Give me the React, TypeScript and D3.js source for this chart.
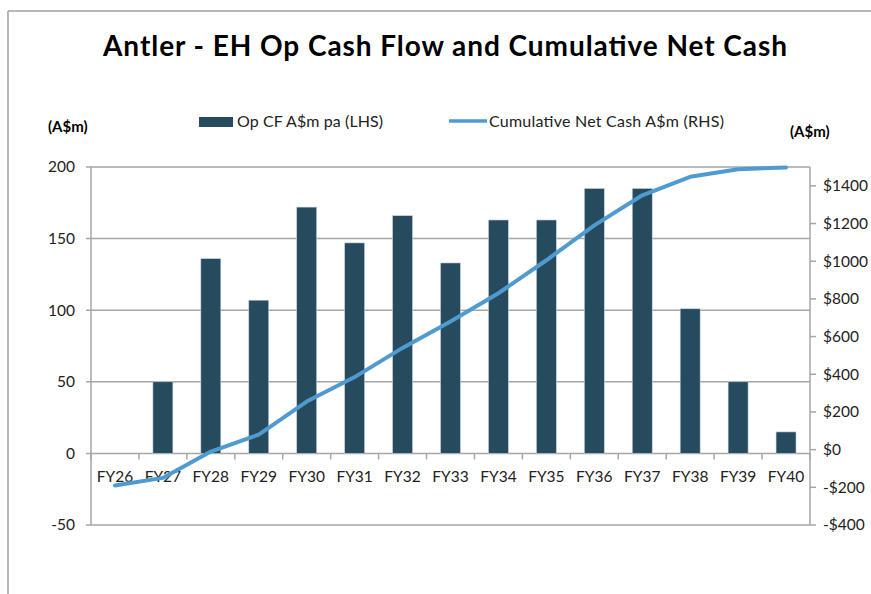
import * as d3 from "d3";
import React from "react";

const years = ["FY26", "FY27", "FY28", "FY29", "FY30", "FY31", "FY32", "FY33", "FY34", "FY35", "FY36", "FY37", "FY38", "FY39", "FY40"];
const opCF = [0, 50, 136, 107, 172, 147, 166, 133, 163, 163, 185, 185, 101, 50, 15];
const cumCash = [-190, -150, -10, 80, 255, 385, 540, 680, 830, 1005, 1190, 1350, 1448, 1488, 1498];
const leftTicks = [-50, 0, 50, 100, 150, 200];
const rightTicks = [-400, -200, 0, 200, 400, 600, 800, 1000, 1200, 1400];

const W = 871;
const H = 594;
const m = { left: 91, right: 810, top: 167, bottom: 525 };
const font = "Lato, 'Open Sans', sans-serif";
const grid = "#a6a6a6";

const App: React.FC = () => {
  const x = d3.scaleBand().domain(years).range([m.left, m.right]).paddingInner(0).paddingOuter(0);
  const y = d3.scaleLinear().domain([-50, 200]).range([m.bottom, m.top]);
  const y2 = d3.scaleLinear().domain([-400, 1500]).range([m.bottom, m.top]);
  const bw = x.bandwidth() / 2.4;
  const line = d3
    .line<number>()
    .x((_, i) => (x(years[i]) || 0) + x.bandwidth() / 2)
    .y((d) => y2(d));

  return (
    <svg width={W} height={H} style={{ position: "absolute", left: 0, top: 0, background: "#fff" }} fontFamily={font}>
      {/* outer frame */}
      <line x1={8} x2={W} y1={11} y2={11} stroke="#a0a0a0" strokeWidth={1.5} />
      <line x1={8} x2={8} y1={11} y2={H} stroke="#a0a0a0" strokeWidth={1.5} />

      <text x={103} y={56} fontSize={28} fontWeight="bold" fill="#000" textLength={684} lengthAdjust="spacing">
        Antler - EH Op Cash Flow and Cumulative Net Cash
      </text>

      {/* legend */}
      <rect x={199} y={117} width={34} height={10} fill="#264a5e" />
      <text x={237} y={127} fontSize={16} fill="#222" textLength={146} lengthAdjust="spacing">Op CF A$m pa (LHS)</text>
      <line x1={449} x2={487} y1={121} y2={121} stroke="#4f9bd0" strokeWidth={3.5} />
      <text x={489} y={127} fontSize={16} fill="#222" textLength={235} lengthAdjust="spacing">Cumulative Net Cash A$m (RHS)</text>

      <text x={48} y={132} fontSize={15} fontWeight="bold" fill="#000">(A$m)</text>
      <text x={790} y={137} fontSize={15} fontWeight="bold" fill="#000">(A$m)</text>

      {/* gridlines */}
      {leftTicks.map((t) => (
        <g key={"l" + t}>
          <line x1={m.left - 5} x2={m.right} y1={y(t)} y2={y(t)} stroke={grid} strokeWidth={1.5} />
          <text x={75} y={y(t)} dy="0.35em" textAnchor="end" fontSize={15.5} fill="#222">{t}</text>
        </g>
      ))}
      <line x1={m.left} x2={m.left} y1={m.top} y2={m.bottom} stroke={grid} strokeWidth={1.5} />
      <line x1={m.right} x2={m.right} y1={m.top} y2={m.bottom} stroke={grid} strokeWidth={1.5} />
      {rightTicks.map((t) => (
        <g key={"r" + t}>
          <line x1={m.right} x2={m.right + 6} y1={y2(t)} y2={y2(t)} stroke={grid} strokeWidth={1.5} />
          <text x={823} y={y2(t)} dy="0.35em" fontSize={15.5} fill="#222">{t < 0 ? "-$" + Math.abs(t) : "$" + t}</text>
        </g>
      ))}

      {/* category ticks */}
      {years.map((yr) => (
        <line key={"t" + yr} x1={x(yr) || 0} x2={x(yr) || 0} y1={y(0)} y2={y(0) + 6} stroke={grid} strokeWidth={1.5} />
      ))}
      <line x1={m.right} x2={m.right} y1={y(0)} y2={y(0) + 6} stroke={grid} strokeWidth={1.5} />

      {/* bars */}
      {opCF.map((v, i) => (
        <rect
          key={"b" + i}
          x={(x(years[i]) || 0) + (x.bandwidth() - bw) / 2}
          y={y(Math.max(0, v))}
          width={bw}
          height={Math.abs(y(v) - y(0))}
          fill="#264a5e"
          stroke="#c8d4dc"
          strokeWidth={0.6}
        />
      ))}

      {years.map((yr) => (
        <text key={"c" + yr} x={(x(yr) || 0) + x.bandwidth() / 2} y={477} dy="0.35em" textAnchor="middle" fontSize={15.5} fill="#222">
          {yr}
        </text>
      ))}

      <path d={line(cumCash) || ""} fill="none" stroke="#4f9bd0" strokeWidth={4} strokeLinejoin="round" strokeLinecap="round" />
    </svg>
  );
};

export default App;
